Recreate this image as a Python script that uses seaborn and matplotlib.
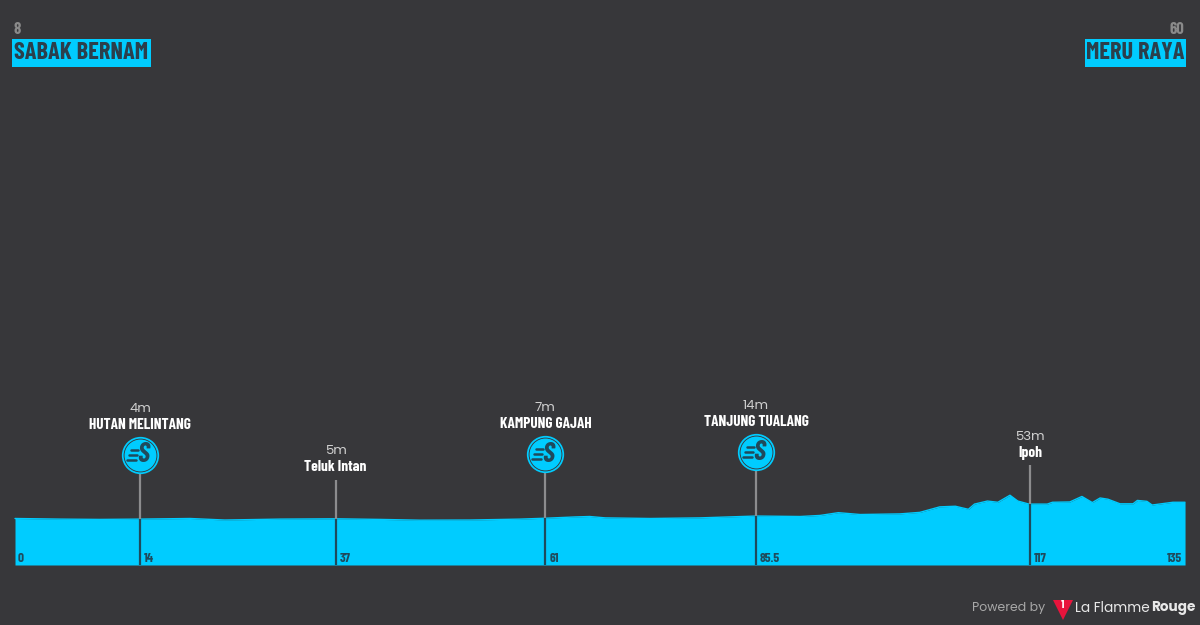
import matplotlib
matplotlib.use("Agg")
import logging
import matplotlib.pyplot as plt
from matplotlib.patches import Rectangle, Polygon
import pandas as pd
import seaborn as sns

logging.getLogger("matplotlib.font_manager").setLevel(logging.ERROR)

# data: stage profile (km, metres)
km = [0, 5.2, 9.8, 14.4, 20.2, 24.2, 30.6, 37, 42.1, 46.7, 52.5, 58.3, 61.3, 64.6, 66.3, 68.1,
      73.3, 79, 85.5, 90.6, 92.9, 95, 97.5, 102.1, 104.4, 106.7, 108.5, 110, 110.7, 112.2,
      113.4, 114.8, 115.7, 117, 119.1, 119.7, 121.7, 123.1, 124.3, 125.2, 126.1, 127.5, 129,
      129.5, 130.6, 131.2, 133.6, 135]
elev = [6, 4, 3, 4, 6, 1, 4, 5, 3, 0.5, 1, 4, 7, 11, 12.5, 8,
        6, 8, 14, 12.5, 16, 25, 19, 21, 26, 44, 46, 36, 53, 63,
        59, 82, 63, 53, 53, 59, 60, 78, 58, 73, 69, 54, 54,
        65, 62, 50, 59, 59]

# places along the route
place_km = [14, 37, 61, 85.5, 117]
place_names = ["HUTAN MELINTANG", "Teluk Intan", "KAMPUNG GAJAH", "TANJUNG TUALANG", "Ipoh"]
place_elev = ["4m", "5m", "7m", "14m", "53m"]
place_sprint = [True, False, True, True, False]
place_tick = ["14", "37", "61", "85.5", "117"]

start_name, start_no = "SABAK BERNAM", "8"
finish_name, finish_no = "MERU RAYA", "60"

BG = "#37373a"
BLUE = "#00ccff"
NAVY = "#1f4a5c"
NARROW = ["Barlow Condensed", "Liberation Sans", "DejaVu Sans"]
SANS = ["Poppins", "Open Sans", "DejaVu Sans"]

# pixel layout of the picture
M_PER_PX = 3.268
PX_PER_KM = 8.667
BASE_PY = 565


def y_data(py):
    return (BASE_PY - py) * M_PER_PX - 146


def fx(px):
    return px / 1200


def fy(py):
    return 1 - py / 625


sns.set_theme(style="white")
plt.rcParams["font.family"] = SANS

fig = plt.figure(figsize=(12, 6.25), dpi=100, facecolor=BG)
ax = fig.add_axes([0, 0, 1, 1])
ax.set_facecolor(BG)
ax.set_xlim(-15 / PX_PER_KM, (1200 - 15) / PX_PER_KM)
ax.set_ylim(y_data(625), y_data(0))
ax.axis("off")

df = pd.DataFrame({"km": km, "elev": elev})
ax.fill_between(df["km"], y_data(BASE_PY), df["elev"], color=BLUE, lw=0, zorder=2)
sns.lineplot(data=df, x="km", y="elev", color=BLUE, lw=1, ax=ax, legend=False, zorder=2)

# x offset of the drawn stems compared to the printed km
stem_shift = [0.45, 0, 0.2, 0, 0.1]
stem_top = [470, 480, 470, 468, 465]
elev_py = [409, 451, 408, 406, 437]
name_py = [425, 467, 424, 422, 453]
icon_py = [455, None, 454, 452, None]

for i, k in enumerate(place_km):
    x = k + stem_shift[i]
    e = df["elev"].iloc[(df["km"] - x).abs().argmin()]
    ax.plot([x, x], [e, y_data(stem_top[i])], color="#8c8c8e", lw=1.6, zorder=3, solid_capstyle="butt")
    ax.plot([x, x], [y_data(BASE_PY), e], color=NAVY, lw=1.6, zorder=3, solid_capstyle="butt")
    ax.annotate(place_tick[i], (x, y_data(559)), xytext=(4, 0), textcoords="offset pixels",
                color=NAVY, fontsize=9.5, fontweight="bold", family=NARROW, ha="left", va="center", zorder=4)
    ax.text(x, y_data(elev_py[i]), place_elev[i], color="#cfcfcf", fontsize=9.5, ha="center", va="center")
    ax.text(x, y_data(name_py[i]), place_names[i], color="white", fontsize=11, fontweight="bold",
            family=NARROW, ha="center", va="center")
    if place_sprint[i]:
        cy = y_data(icon_py[i])
        ax.scatter([x], [cy], s=720, color=BLUE, lw=0, zorder=5)
        ax.scatter([x], [cy], s=590, color=BG, lw=0, zorder=6)
        ax.scatter([x], [cy], s=530, color=BLUE, lw=0, zorder=7)
        ax.annotate("S", (x, cy), xytext=(3, 0), textcoords="offset pixels", color=NAVY, fontsize=20,
                    fontstyle="italic", fontweight="bold", family=NARROW, ha="center", va="center", zorder=8)
        for dy, x0, x1 in [(5, -9, -2), (0, -11, -3), (-5, -13, -4)]:
            ax.plot([x + x0 / PX_PER_KM, x + x1 / PX_PER_KM], [cy + dy * M_PER_PX] * 2,
                    color=NAVY, lw=1.8, zorder=8, solid_capstyle="round")

ax.text(0.25, y_data(559), "0", color=NAVY, fontsize=9.5, fontweight="bold", family=NARROW, ha="left", va="center", zorder=4)
ax.text(134.7, y_data(559), "135", color=NAVY, fontsize=9.5, fontweight="bold", family=NARROW, ha="right", va="center", zorder=4)

# start and finish labels
fig.add_artist(Rectangle((fx(12), fy(67)), fx(139), 28 / 625, color=BLUE, lw=0, transform=fig.transFigure))
fig.add_artist(Rectangle((fx(1085), fy(67)), fx(101), 28 / 625, color=BLUE, lw=0, transform=fig.transFigure))
fig.text(fx(14), fy(29), start_no, color="#8a8a8a", fontsize=12, fontweight="bold", family=NARROW, va="center")
fig.text(fx(1184), fy(29), finish_no, color="#8a8a8a", fontsize=12, fontweight="bold", family=NARROW, va="center", ha="right")
fig.text(fx(14), fy(53), start_name, color="#2b3f4c", fontsize=17.5, fontweight="bold", family=NARROW, va="center")
fig.text(fx(1184), fy(53), finish_name, color="#2b3f4c", fontsize=17.5, fontweight="bold", family=NARROW, va="center", ha="right")

# footer logo
fig.add_artist(Polygon([(fx(1053), fy(600)), (fx(1073), fy(600)), (fx(1063), fy(620))], color="#e8143c", lw=0,
                       transform=fig.transFigure))
fig.text(fx(1062.5), fy(606), "1", color="white", fontsize=7, fontweight="bold", ha="center", va="center")
fig.text(fx(972), fy(608), "Powered by", color="#a8a8a8", fontsize=9, va="center")
fig.text(fx(1075), fy(608), "La Flamme", color="#e8e8e8", fontsize=9.8, va="center")
fig.text(fx(1195), fy(608), "Rouge", color="#e8e8e8", fontsize=9.8, fontweight="bold", va="center", ha="right")

fig.savefig("out.png", dpi=100, facecolor=BG)
